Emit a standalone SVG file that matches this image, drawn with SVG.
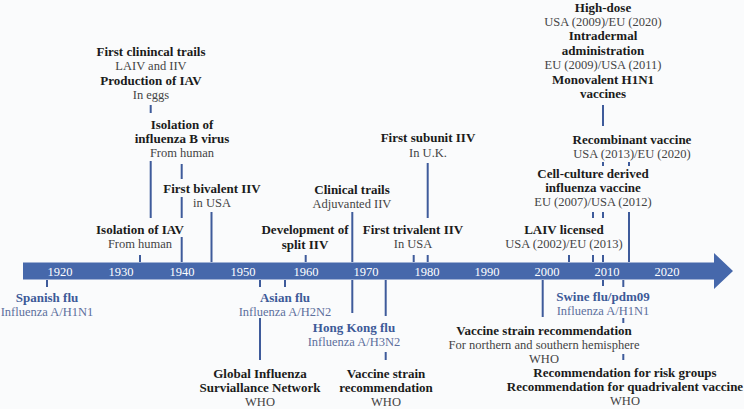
<svg xmlns="http://www.w3.org/2000/svg" width="744" height="409" viewBox="0 0 744 409">
<style>
text{font-family:'Liberation Serif','DejaVu Serif',serif;font-size:12.5px;text-anchor:middle}
.t{font-weight:bold;fill:#1b1b1b;font-size:13px}
.s{fill:#444}
.bt{font-weight:bold;fill:#3d5a98;font-size:13px}
.bs{fill:#5c6f9c}
.yr{fill:#fff;font-size:12.5px}
.c line{stroke:#3e5b9b;stroke-width:2}
</style>
<rect width="744" height="409" fill="#fafbfc"/>
<g id="axis">
<path d="M23 262.5H714V253L733 271L714 289V279.5H23Z" fill="#4668ab"/>
<text class="yr" x="60" y="275.5">1920</text>
<text class="yr" x="121" y="275.5">1930</text>
<text class="yr" x="182" y="275.5">1940</text>
<text class="yr" x="243" y="275.5">1950</text>
<text class="yr" x="306" y="275.5">1960</text>
<text class="yr" x="366" y="275.5">1970</text>
<text class="yr" x="427" y="275.5">1980</text>
<text class="yr" x="487" y="275.5">1990</text>
<text class="yr" x="547" y="275.5">2000</text>
<text class="yr" x="607" y="275.5">2010</text>
<text class="yr" x="667" y="275.5">2020</text>
</g>
<g id="connectors" class="c">
<line x1="150.7" y1="105" x2="150.7" y2="113"/>
<line x1="150.7" y1="161" x2="150.7" y2="218"/>
<line x1="181.7" y1="164" x2="181.7" y2="179"/>
<line x1="181.7" y1="197" x2="181.7" y2="218"/>
<line x1="181.7" y1="237" x2="181.7" y2="262"/>
<line x1="211.5" y1="212" x2="211.5" y2="262"/>
<line x1="140" y1="255" x2="140" y2="262"/>
<line x1="305.7" y1="255" x2="305.7" y2="262"/>
<line x1="352.3" y1="212" x2="352.3" y2="262"/>
<line x1="413.7" y1="255" x2="413.7" y2="262"/>
<line x1="427.7" y1="163" x2="427.7" y2="218"/>
<line x1="427.7" y1="255" x2="427.7" y2="262"/>
<line x1="603" y1="105" x2="603" y2="126"/>
<line x1="603" y1="162" x2="603" y2="166"/>
<line x1="603" y1="212" x2="603" y2="218"/>
<line x1="603" y1="255" x2="603" y2="262"/>
<line x1="593" y1="212" x2="593" y2="218"/>
<line x1="593" y1="255" x2="593" y2="262"/>
<line x1="569" y1="255" x2="569" y2="262"/>
<line x1="629" y1="162" x2="629" y2="166"/>
<line x1="629" y1="212" x2="629" y2="262"/>
<line x1="47" y1="280" x2="47" y2="287"/>
<line x1="260" y1="280" x2="260" y2="287"/>
<line x1="260" y1="318" x2="260" y2="360"/>
<line x1="285" y1="280" x2="285" y2="287"/>
<line x1="352.3" y1="280" x2="352.3" y2="313"/>
<line x1="385.7" y1="280" x2="385.7" y2="316"/>
<line x1="385.7" y1="352" x2="385.7" y2="360"/>
<line x1="542.7" y1="280" x2="542.7" y2="317"/>
<line x1="603" y1="280" x2="603" y2="286"/>
<line x1="623.3" y1="280" x2="623.3" y2="287"/>
<line x1="623.3" y1="318" x2="623.3" y2="323"/>
<line x1="623.3" y1="354" x2="623.3" y2="360"/>
</g>
<g id="first-clinical-trials">
<text class="t" x="151" y="55.5">First clinincal trails</text>
<text class="s" x="151" y="69.5">LAIV and IIV</text>
<text class="t" x="151" y="84.5">Production of IAV</text>
<text class="s" x="151" y="99">In eggs</text>
</g>
<g id="isolation-b">
<text class="t" x="182" y="128.5">Isolation of</text>
<text class="t" x="182" y="142.5">influenza B virus</text>
<text class="s" x="182" y="157">From human</text>
</g>
<g id="first-bivalent">
<text class="t" x="212" y="192.5">First bivalent IIV</text>
<text class="s" x="212" y="207">in USA</text>
</g>
<g id="isolation-iav">
<text class="t" x="140" y="233.5">Isolation of IAV</text>
<text class="s" x="140" y="247.5">From human</text>
</g>
<g id="split-iiv">
<text class="t" x="305" y="233.5">Development of</text>
<text class="t" x="305" y="248.5">split IIV</text>
</g>
<g id="clinical-adjuvanted">
<text class="t" x="352" y="193.5">Clinical trails</text>
<text class="s" x="352" y="207.5">Adjuvanted IIV</text>
</g>
<g id="first-subunit">
<text class="t" x="428" y="142">First subunit IIV</text>
<text class="s" x="428" y="156.5">In U.K.</text>
</g>
<g id="first-trivalent">
<text class="t" x="413" y="233.5">First trivalent IIV</text>
<text class="s" x="413" y="248">In USA</text>
</g>
<g id="high-dose">
<text class="t" x="603" y="11.5">High-dose</text>
<text class="s" x="603" y="25.5">USA (2009)/EU (2020)</text>
<text class="t" x="603" y="39.5">Intradermal</text>
<text class="t" x="603" y="54.5">administration</text>
<text class="s" x="603" y="68.5">EU (2009)/USA (2011)</text>
<text class="t" x="603" y="83.5">Monovalent H1N1</text>
<text class="t" x="603" y="98">vaccines</text>
</g>
<g id="recombinant">
<text class="t" x="632" y="143.5">Recombinant vaccine</text>
<text class="s" x="632" y="158">USA (2013)/EU (2020)</text>
</g>
<g id="cell-culture">
<text class="t" x="593" y="177.5">Cell-culture derived</text>
<text class="t" x="593" y="192">influenza vaccine</text>
<text class="s" x="593" y="205.5">EU (2007)/USA (2012)</text>
</g>
<g id="laiv-licensed">
<text class="t" x="564" y="233.5">LAIV licensed</text>
<text class="s" x="564" y="247.5">USA (2002)/EU (2013)</text>
</g>
<g id="spanish-flu">
<text class="bt" x="47" y="301.5">Spanish flu</text>
<text class="bs" x="47" y="316">Influenza A/H1N1</text>
</g>
<g id="asian-flu">
<text class="bt" x="285" y="301.5">Asian flu</text>
<text class="bs" x="285" y="316">Influenza A/H2N2</text>
</g>
<g id="hong-kong-flu">
<text class="bt" x="354" y="331.5">Hong Kong flu</text>
<text class="bs" x="354" y="345.5">Influenza A/H3N2</text>
</g>
<g id="gisn">
<text class="t" x="260" y="377.5">Global Influenza</text>
<text class="t" x="260" y="391.5">Surviallance Network</text>
<text class="s" x="260" y="406">WHO</text>
</g>
<g id="vaccine-strain-1973">
<text class="t" x="386" y="377.5">Vaccine strain</text>
<text class="t" x="386" y="391.5">recommendation</text>
<text class="s" x="386" y="406">WHO</text>
</g>
<g id="swine-flu">
<text class="bt" x="603" y="300.5">Swine flu/pdm09</text>
<text class="bs" x="603" y="315">Influenza A/H1N1</text>
</g>
<g id="vaccine-strain-2000">
<text class="t" x="544" y="334.5">Vaccine strain recommendation</text>
<text class="s" x="544" y="348.5">For northern and southern hemisphere</text>
<text class="s" x="544" y="362.5">WHO</text>
</g>
<g id="risk-groups">
<text class="t" x="625" y="376.5">Recommendation for risk groups</text>
<text class="t" x="625" y="390.5">Recommendation for quadrivalent vaccine</text>
<text class="s" x="625" y="405">WHO</text>
</g>
</svg>
